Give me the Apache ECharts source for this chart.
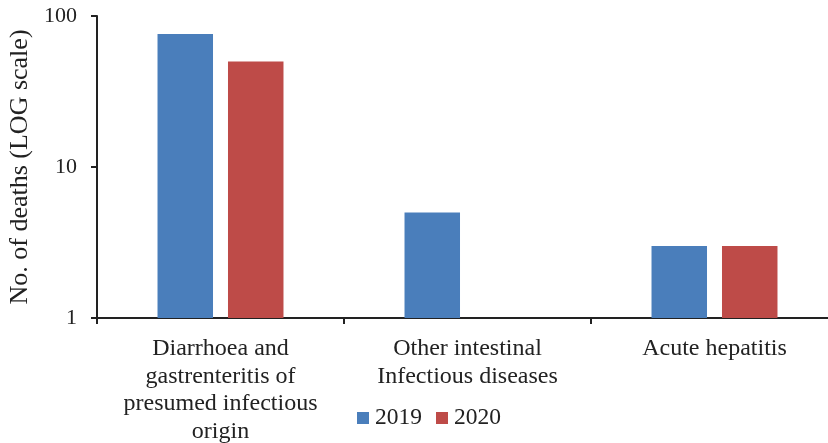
<!DOCTYPE html>
<html>
<head>
<meta charset="utf-8">
<script src="https://cdn.jsdelivr.net/npm/echarts@6/dist/echarts.min.js"></script>
<style>html,body{margin:0;padding:0;background:#fff}#c{width:828px;height:443px}</style>
</head>
<body>
<div id="c"></div>
<script>
const categories = ['Diarrhoea and\ngastrenteritis of\npresumed infectious\norigin', 'Other intestinal\nInfectious diseases', 'Acute hepatitis'];
const seriesNames = ['2019', '2020'];
const values2019 = [76, 5, 3];
const values2020 = [50, null, 3];
const yTicks = [1, 10, 100];

const font = '"Liberation Serif", "Times New Roman", serif';
const chart = echarts.init(document.getElementById('c'));
chart.setOption({
  animation: false,
  textStyle: { fontFamily: font },
  grid: { left: 97, width: 741, top: 16, bottom: 125, outerBoundsMode: 'none', containLabel: false },
  legend: {
    data: seriesNames,
    left: 357,
    top: 406,
    padding: 0,
    itemWidth: 12,
    itemHeight: 12,
    itemGap: 14,
    icon: 'rect',
    textStyle: { fontFamily: font, fontSize: 23.5, color: '#222', padding: [0, 0, 0, 1] }
  },
  xAxis: {
    type: 'category',
    data: categories,
    axisLine: { lineStyle: { color: '#222', width: 2 } },
    axisTick: { show: true, length: 6, lineStyle: { color: '#222', width: 2 } },
    axisLabel: { fontFamily: font, fontSize: 24, color: '#222', lineHeight: 27.5, margin: 17, interval: 0 }
  },
  yAxis: {
    type: 'log',
    logBase: 10,
    min: yTicks[0],
    max: yTicks[yTicks.length - 1],
    name: 'No. of deaths (LOG scale)',
    nameLocation: 'middle',
    nameGap: 63,
    nameTextStyle: { fontFamily: font, fontSize: 26, color: '#222' },
    splitLine: { show: false },
    axisLine: { show: true, lineStyle: { color: '#222', width: 2 } },
    axisTick: { show: true, length: 6, lineStyle: { color: '#222', width: 2 } },
    axisLabel: { fontFamily: font, fontSize: 22, color: '#222', margin: 20 }
  },
  series: [
    { name: seriesNames[0], type: 'bar', data: values2019, itemStyle: { color: '#4A7EBB' }, barGap: '27%', barCategoryGap: '49%' },
    { name: seriesNames[1], type: 'bar', data: values2020, itemStyle: { color: '#BE4B48' }, barGap: '27%', barCategoryGap: '49%' }
  ]
});
</script>
</body>
</html>
